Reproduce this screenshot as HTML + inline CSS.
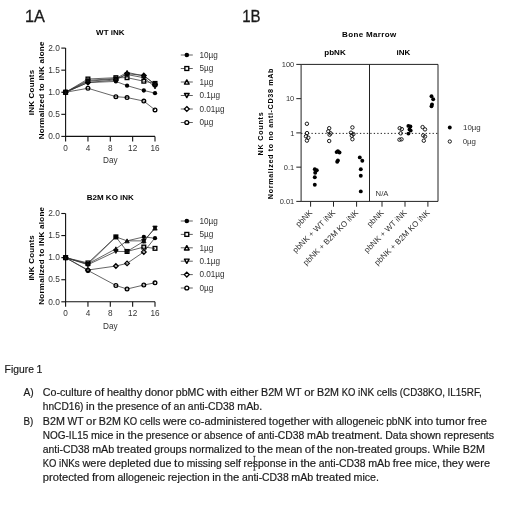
<!DOCTYPE html>
<html><head><meta charset="utf-8"><style>
html,body{margin:0;padding:0;background:#fff;width:520px;height:506px;overflow:hidden}
svg{display:block;font-family:"Liberation Sans", sans-serif;will-change:transform}
</style></head><body>
<svg width="520" height="506" viewBox="0 0 520 506">
<text x="110.3" y="35.00" font-size="8" font-weight="bold" text-anchor="middle">WT iNK</text>
<path d="M65.60 48.10 V136.40 H155.00" fill="none" stroke="#111" stroke-width="1.1"/>
<path d="M61.30 136.40 H65.60" stroke="#111" stroke-width="1.1"/>
<text x="59.80" y="139.15" font-size="8.4" fill="#333" text-anchor="end">0.0</text>
<path d="M61.30 114.33 H65.60" stroke="#111" stroke-width="1.1"/>
<text x="59.80" y="117.08" font-size="8.4" fill="#333" text-anchor="end">0.5</text>
<path d="M61.30 92.25 H65.60" stroke="#111" stroke-width="1.1"/>
<text x="59.80" y="95.00" font-size="8.4" fill="#333" text-anchor="end">1.0</text>
<path d="M61.30 70.17 H65.60" stroke="#111" stroke-width="1.1"/>
<text x="59.80" y="72.92" font-size="8.4" fill="#333" text-anchor="end">1.5</text>
<path d="M61.30 48.10 H65.60" stroke="#111" stroke-width="1.1"/>
<text x="59.80" y="50.85" font-size="8.4" fill="#333" text-anchor="end">2.0</text>
<path d="M65.60 136.40 V141.40" stroke="#111" stroke-width="1.1"/>
<text x="65.60" y="150.90" font-size="8.2" fill="#333" text-anchor="middle">0</text>
<path d="M87.95 136.40 V141.40" stroke="#111" stroke-width="1.1"/>
<text x="87.95" y="150.90" font-size="8.2" fill="#333" text-anchor="middle">4</text>
<path d="M110.30 136.40 V141.40" stroke="#111" stroke-width="1.1"/>
<text x="110.30" y="150.90" font-size="8.2" fill="#333" text-anchor="middle">8</text>
<path d="M132.65 136.40 V141.40" stroke="#111" stroke-width="1.1"/>
<text x="132.65" y="150.90" font-size="8.2" fill="#333" text-anchor="middle">12</text>
<path d="M155.00 136.40 V141.40" stroke="#111" stroke-width="1.1"/>
<text x="155.00" y="150.90" font-size="8.2" fill="#333" text-anchor="middle">16</text>
<text x="110.3" y="163.10" font-size="8.2" fill="#333" text-anchor="middle">Day</text>
<text transform="translate(33.9 92.40) rotate(-90)" font-size="8" font-weight="bold" text-anchor="middle" letter-spacing="0.2">iNK Counts</text>
<text transform="translate(43.8 90.30) rotate(-90)" font-size="8" font-weight="bold" text-anchor="middle" letter-spacing="0.26">Normalized to iNK alone</text>
<polyline points="65.60,92.25 87.95,82.54 115.89,81.43 127.06,85.63 143.82,90.48 155.00,93.13" fill="none" stroke="#333" stroke-width="0.75"/>
<polyline points="65.60,92.25 87.95,79.00 115.89,77.68 127.06,77.68 143.82,81.21 155.00,83.42" fill="none" stroke="#333" stroke-width="0.75"/>
<polyline points="65.60,92.25 87.95,80.33 115.89,78.56 127.06,72.38 143.82,75.91 155.00,84.30" fill="none" stroke="#333" stroke-width="0.75"/>
<polyline points="65.60,92.25 87.95,81.21 115.89,79.00 127.06,74.59 143.82,77.68 155.00,86.95" fill="none" stroke="#333" stroke-width="0.75"/>
<polyline points="65.60,92.25 87.95,82.54 115.89,79.89 127.06,73.71 143.82,75.47 155.00,84.30" fill="none" stroke="#333" stroke-width="0.75"/>
<polyline points="65.60,92.25 87.95,88.28 115.89,96.66 127.06,97.55 143.82,101.08 155.00,109.91" fill="none" stroke="#333" stroke-width="0.75"/>
<circle cx="65.60" cy="92.25" r="1.85" fill="none" stroke="#000" stroke-width="1.35"/>
<circle cx="87.95" cy="88.28" r="1.85" fill="none" stroke="#000" stroke-width="1.35"/>
<circle cx="115.89" cy="96.66" r="1.85" fill="none" stroke="#000" stroke-width="1.35"/>
<circle cx="127.06" cy="97.55" r="1.85" fill="none" stroke="#000" stroke-width="1.35"/>
<circle cx="143.82" cy="101.08" r="1.85" fill="none" stroke="#000" stroke-width="1.35"/>
<circle cx="155.00" cy="109.91" r="1.85" fill="none" stroke="#000" stroke-width="1.35"/>
<path d="M65.60 89.95 L67.90 92.25 L65.60 94.55 L63.30 92.25Z" fill="none" stroke="#000" stroke-width="1.3"/>
<path d="M87.95 80.24 L90.25 82.54 L87.95 84.84 L85.65 82.54Z" fill="none" stroke="#000" stroke-width="1.3"/>
<path d="M115.89 77.59 L118.19 79.89 L115.89 82.19 L113.59 79.89Z" fill="none" stroke="#000" stroke-width="1.3"/>
<path d="M127.06 71.41 L129.36 73.71 L127.06 76.01 L124.76 73.71Z" fill="none" stroke="#000" stroke-width="1.3"/>
<path d="M143.82 73.17 L146.12 75.47 L143.82 77.77 L141.52 75.47Z" fill="none" stroke="#000" stroke-width="1.3"/>
<path d="M155.00 82.00 L157.30 84.30 L155.00 86.60 L152.70 84.30Z" fill="none" stroke="#000" stroke-width="1.3"/>
<rect x="63.75" y="90.40" width="3.70" height="3.70" fill="none" stroke="#000" stroke-width="1.35"/>
<rect x="86.10" y="77.16" width="3.70" height="3.70" fill="none" stroke="#000" stroke-width="1.35"/>
<rect x="114.04" y="75.83" width="3.70" height="3.70" fill="none" stroke="#000" stroke-width="1.35"/>
<rect x="125.21" y="75.83" width="3.70" height="3.70" fill="none" stroke="#000" stroke-width="1.35"/>
<rect x="141.97" y="79.36" width="3.70" height="3.70" fill="none" stroke="#000" stroke-width="1.35"/>
<rect x="153.15" y="81.57" width="3.70" height="3.70" fill="none" stroke="#000" stroke-width="1.35"/>
<circle cx="65.60" cy="92.25" r="2.15" fill="#000"/>
<circle cx="87.95" cy="82.54" r="2.15" fill="#000"/>
<circle cx="115.89" cy="81.43" r="2.15" fill="#000"/>
<circle cx="127.06" cy="85.63" r="2.15" fill="#000"/>
<circle cx="143.82" cy="90.48" r="2.15" fill="#000"/>
<circle cx="155.00" cy="93.13" r="2.15" fill="#000"/>
<path d="M65.60 94.25 L67.80 90.25 L63.40 90.25Z" fill="#111" stroke="#000" stroke-width="0.8" stroke-linejoin="round"/>
<path d="M87.95 83.21 L90.15 79.21 L85.75 79.21Z" fill="#111" stroke="#000" stroke-width="0.8" stroke-linejoin="round"/>
<path d="M115.89 81.00 L118.09 77.00 L113.69 77.00Z" fill="#111" stroke="#000" stroke-width="0.8" stroke-linejoin="round"/>
<path d="M127.06 76.59 L129.26 72.59 L124.86 72.59Z" fill="#111" stroke="#000" stroke-width="0.8" stroke-linejoin="round"/>
<path d="M143.82 79.68 L146.02 75.68 L141.62 75.68Z" fill="#111" stroke="#000" stroke-width="0.8" stroke-linejoin="round"/>
<path d="M155.00 88.95 L157.20 84.95 L152.80 84.95Z" fill="#111" stroke="#000" stroke-width="0.8" stroke-linejoin="round"/>
<path d="M65.60 90.25 L67.80 94.25 L63.40 94.25Z" fill="#111" stroke="#000" stroke-width="0.8" stroke-linejoin="round"/>
<path d="M87.95 78.33 L90.15 82.33 L85.75 82.33Z" fill="#111" stroke="#000" stroke-width="0.8" stroke-linejoin="round"/>
<path d="M115.89 76.56 L118.09 80.56 L113.69 80.56Z" fill="#111" stroke="#000" stroke-width="0.8" stroke-linejoin="round"/>
<path d="M127.06 70.38 L129.26 74.38 L124.86 74.38Z" fill="#111" stroke="#000" stroke-width="0.8" stroke-linejoin="round"/>
<path d="M143.82 73.91 L146.02 77.91 L141.62 77.91Z" fill="#111" stroke="#000" stroke-width="0.8" stroke-linejoin="round"/>
<path d="M155.00 82.30 L157.20 86.30 L152.80 86.30Z" fill="#111" stroke="#000" stroke-width="0.8" stroke-linejoin="round"/>
<path d="M180.8 55.00 H192.8" stroke="#444" stroke-width="0.85"/>
<circle cx="186.80" cy="55.00" r="2.26" fill="#000"/>
<text x="199.4" y="57.70" font-size="8.2" fill="#333">10µg</text>
<path d="M180.8 68.50 H192.8" stroke="#444" stroke-width="0.85"/>
<rect x="184.86" y="66.56" width="3.89" height="3.89" fill="#fff" stroke="#000" stroke-width="1.35"/>
<text x="199.4" y="71.20" font-size="8.2" fill="#333">5µg</text>
<path d="M180.8 82.00 H192.8" stroke="#444" stroke-width="0.85"/>
<path d="M186.80 79.90 L189.11 84.10 L184.49 84.10Z" fill="#fff" stroke="#000" stroke-width="1.45" stroke-linejoin="round"/>
<text x="199.4" y="84.70" font-size="8.2" fill="#333">1µg</text>
<path d="M180.8 95.50 H192.8" stroke="#444" stroke-width="0.85"/>
<path d="M186.80 97.60 L189.11 93.40 L184.49 93.40Z" fill="#fff" stroke="#000" stroke-width="1.45" stroke-linejoin="round"/>
<text x="199.4" y="98.20" font-size="8.2" fill="#333">0.1µg</text>
<path d="M180.8 109.00 H192.8" stroke="#444" stroke-width="0.85"/>
<path d="M186.80 106.58 L189.22 109.00 L186.80 111.42 L184.39 109.00Z" fill="#fff" stroke="#000" stroke-width="1.3"/>
<text x="199.4" y="111.70" font-size="8.2" fill="#333">0.01µg</text>
<path d="M180.8 122.50 H192.8" stroke="#444" stroke-width="0.85"/>
<circle cx="186.80" cy="122.50" r="1.94" fill="#fff" stroke="#000" stroke-width="1.35"/>
<text x="199.4" y="125.20" font-size="8.2" fill="#333">0µg</text>
<text x="110.3" y="200.40" font-size="8" font-weight="bold" text-anchor="middle">B2M KO iNK</text>
<path d="M65.60 213.50 V301.80 H155.00" fill="none" stroke="#111" stroke-width="1.1"/>
<path d="M61.30 301.80 H65.60" stroke="#111" stroke-width="1.1"/>
<text x="59.80" y="304.55" font-size="8.4" fill="#333" text-anchor="end">0.0</text>
<path d="M61.30 279.73 H65.60" stroke="#111" stroke-width="1.1"/>
<text x="59.80" y="282.48" font-size="8.4" fill="#333" text-anchor="end">0.5</text>
<path d="M61.30 257.65 H65.60" stroke="#111" stroke-width="1.1"/>
<text x="59.80" y="260.40" font-size="8.4" fill="#333" text-anchor="end">1.0</text>
<path d="M61.30 235.57 H65.60" stroke="#111" stroke-width="1.1"/>
<text x="59.80" y="238.32" font-size="8.4" fill="#333" text-anchor="end">1.5</text>
<path d="M61.30 213.50 H65.60" stroke="#111" stroke-width="1.1"/>
<text x="59.80" y="216.25" font-size="8.4" fill="#333" text-anchor="end">2.0</text>
<path d="M65.60 301.80 V306.80" stroke="#111" stroke-width="1.1"/>
<text x="65.60" y="316.30" font-size="8.2" fill="#333" text-anchor="middle">0</text>
<path d="M87.95 301.80 V306.80" stroke="#111" stroke-width="1.1"/>
<text x="87.95" y="316.30" font-size="8.2" fill="#333" text-anchor="middle">4</text>
<path d="M110.30 301.80 V306.80" stroke="#111" stroke-width="1.1"/>
<text x="110.30" y="316.30" font-size="8.2" fill="#333" text-anchor="middle">8</text>
<path d="M132.65 301.80 V306.80" stroke="#111" stroke-width="1.1"/>
<text x="132.65" y="316.30" font-size="8.2" fill="#333" text-anchor="middle">12</text>
<path d="M155.00 301.80 V306.80" stroke="#111" stroke-width="1.1"/>
<text x="155.00" y="316.30" font-size="8.2" fill="#333" text-anchor="middle">16</text>
<text x="110.3" y="328.50" font-size="8.2" fill="#333" text-anchor="middle">Day</text>
<text transform="translate(33.9 257.80) rotate(-90)" font-size="8" font-weight="bold" text-anchor="middle" letter-spacing="0.2">iNK Counts</text>
<text transform="translate(43.8 255.70) rotate(-90)" font-size="8" font-weight="bold" text-anchor="middle" letter-spacing="0.26">Normalized to iNK alone</text>
<polyline points="65.60,257.65 87.95,264.27 115.89,236.90 127.06,240.87 143.82,236.90 155.00,238.22" fill="none" stroke="#333" stroke-width="0.75"/>
<polyline points="65.60,257.65 87.95,262.95 115.89,236.90 127.06,251.47 143.82,247.05 155.00,248.38" fill="none" stroke="#333" stroke-width="0.75"/>
<polyline points="65.60,257.65 87.95,263.83 115.89,248.82 127.06,240.87 143.82,240.87 155.00,228.07" fill="none" stroke="#333" stroke-width="0.75"/>
<polyline points="65.60,257.65 87.95,264.71 115.89,251.47 127.06,251.47 143.82,241.31 155.00,228.07" fill="none" stroke="#333" stroke-width="0.75"/>
<polyline points="65.60,257.65 87.95,270.01 115.89,266.04 127.06,263.39 143.82,251.91 155.00,237.78" fill="none" stroke="#333" stroke-width="0.75"/>
<polyline points="65.60,257.65 87.95,270.45 115.89,285.46 127.06,289.00 143.82,285.02 155.00,282.82" fill="none" stroke="#333" stroke-width="0.75"/>
<circle cx="65.60" cy="257.65" r="1.85" fill="none" stroke="#000" stroke-width="1.35"/>
<circle cx="87.95" cy="270.45" r="1.85" fill="none" stroke="#000" stroke-width="1.35"/>
<circle cx="115.89" cy="285.46" r="1.85" fill="none" stroke="#000" stroke-width="1.35"/>
<circle cx="127.06" cy="289.00" r="1.85" fill="none" stroke="#000" stroke-width="1.35"/>
<circle cx="143.82" cy="285.02" r="1.85" fill="none" stroke="#000" stroke-width="1.35"/>
<circle cx="155.00" cy="282.82" r="1.85" fill="none" stroke="#000" stroke-width="1.35"/>
<path d="M65.60 255.35 L67.90 257.65 L65.60 259.95 L63.30 257.65Z" fill="none" stroke="#000" stroke-width="1.3"/>
<path d="M87.95 267.71 L90.25 270.01 L87.95 272.31 L85.65 270.01Z" fill="none" stroke="#000" stroke-width="1.3"/>
<path d="M115.89 263.74 L118.19 266.04 L115.89 268.34 L113.59 266.04Z" fill="none" stroke="#000" stroke-width="1.3"/>
<path d="M127.06 261.09 L129.36 263.39 L127.06 265.69 L124.76 263.39Z" fill="none" stroke="#000" stroke-width="1.3"/>
<path d="M143.82 249.61 L146.12 251.91 L143.82 254.21 L141.52 251.91Z" fill="none" stroke="#000" stroke-width="1.3"/>
<rect x="63.75" y="255.80" width="3.70" height="3.70" fill="none" stroke="#000" stroke-width="1.35"/>
<rect x="86.10" y="261.10" width="3.70" height="3.70" fill="none" stroke="#000" stroke-width="1.35"/>
<rect x="114.04" y="235.05" width="3.70" height="3.70" fill="none" stroke="#000" stroke-width="1.35"/>
<rect x="125.21" y="249.62" width="3.70" height="3.70" fill="none" stroke="#000" stroke-width="1.35"/>
<rect x="141.97" y="245.20" width="3.70" height="3.70" fill="none" stroke="#000" stroke-width="1.35"/>
<rect x="153.15" y="246.53" width="3.70" height="3.70" fill="none" stroke="#000" stroke-width="1.35"/>
<circle cx="65.60" cy="257.65" r="2.15" fill="#000"/>
<circle cx="87.95" cy="264.27" r="2.15" fill="#000"/>
<circle cx="115.89" cy="236.90" r="2.15" fill="#000"/>
<circle cx="143.82" cy="236.90" r="2.15" fill="#000"/>
<circle cx="155.00" cy="238.22" r="2.15" fill="#000"/>
<path d="M65.60 259.65 L67.80 255.65 L63.40 255.65Z" fill="#111" stroke="#000" stroke-width="0.8" stroke-linejoin="round"/>
<path d="M87.95 266.71 L90.15 262.71 L85.75 262.71Z" fill="#111" stroke="#000" stroke-width="0.8" stroke-linejoin="round"/>
<path d="M115.89 253.47 L118.09 249.47 L113.69 249.47Z" fill="#111" stroke="#000" stroke-width="0.8" stroke-linejoin="round"/>
<path d="M127.06 253.47 L129.26 249.47 L124.86 249.47Z" fill="#111" stroke="#000" stroke-width="0.8" stroke-linejoin="round"/>
<path d="M143.82 243.31 L146.02 239.31 L141.62 239.31Z" fill="#111" stroke="#000" stroke-width="0.8" stroke-linejoin="round"/>
<path d="M155.00 230.07 L157.20 226.07 L152.80 226.07Z" fill="#111" stroke="#000" stroke-width="0.8" stroke-linejoin="round"/>
<path d="M65.60 255.65 L67.80 259.65 L63.40 259.65Z" fill="#111" stroke="#000" stroke-width="0.8" stroke-linejoin="round"/>
<path d="M87.95 261.83 L90.15 265.83 L85.75 265.83Z" fill="#111" stroke="#000" stroke-width="0.8" stroke-linejoin="round"/>
<path d="M115.89 246.82 L118.09 250.82 L113.69 250.82Z" fill="#111" stroke="#000" stroke-width="0.8" stroke-linejoin="round"/>
<path d="M127.06 238.87 L129.26 242.87 L124.86 242.87Z" fill="#111" stroke="#000" stroke-width="0.8" stroke-linejoin="round"/>
<path d="M143.82 238.87 L146.02 242.87 L141.62 242.87Z" fill="#111" stroke="#000" stroke-width="0.8" stroke-linejoin="round"/>
<path d="M155.00 226.07 L157.20 230.07 L152.80 230.07Z" fill="#111" stroke="#000" stroke-width="0.8" stroke-linejoin="round"/>
<path d="M180.8 221.00 H192.8" stroke="#444" stroke-width="0.85"/>
<circle cx="186.80" cy="221.00" r="2.26" fill="#000"/>
<text x="199.4" y="223.70" font-size="8.2" fill="#333">10µg</text>
<path d="M180.8 234.40 H192.8" stroke="#444" stroke-width="0.85"/>
<rect x="184.86" y="232.46" width="3.89" height="3.89" fill="#fff" stroke="#000" stroke-width="1.35"/>
<text x="199.4" y="237.10" font-size="8.2" fill="#333">5µg</text>
<path d="M180.8 247.80 H192.8" stroke="#444" stroke-width="0.85"/>
<path d="M186.80 245.70 L189.11 249.90 L184.49 249.90Z" fill="#fff" stroke="#000" stroke-width="1.45" stroke-linejoin="round"/>
<text x="199.4" y="250.50" font-size="8.2" fill="#333">1µg</text>
<path d="M180.8 261.20 H192.8" stroke="#444" stroke-width="0.85"/>
<path d="M186.80 263.30 L189.11 259.10 L184.49 259.10Z" fill="#fff" stroke="#000" stroke-width="1.45" stroke-linejoin="round"/>
<text x="199.4" y="263.90" font-size="8.2" fill="#333">0.1µg</text>
<path d="M180.8 274.60 H192.8" stroke="#444" stroke-width="0.85"/>
<path d="M186.80 272.19 L189.22 274.60 L186.80 277.02 L184.39 274.60Z" fill="#fff" stroke="#000" stroke-width="1.3"/>
<text x="199.4" y="277.30" font-size="8.2" fill="#333">0.01µg</text>
<path d="M180.8 288.00 H192.8" stroke="#444" stroke-width="0.85"/>
<circle cx="186.80" cy="288.00" r="1.94" fill="#fff" stroke="#000" stroke-width="1.35"/>
<text x="199.4" y="290.70" font-size="8.2" fill="#333">0µg</text>
<text x="369.3" y="37.1" font-size="8" font-weight="bold" text-anchor="middle" letter-spacing="0.35">Bone Marrow</text>
<text x="335.0" y="54.9" font-size="8" font-weight="bold" text-anchor="middle">pbNK</text>
<text x="403.3" y="54.9" font-size="8" font-weight="bold" text-anchor="middle">iNK</text>
<path d="M301.1 64.4 H438.0 V201.4 H301.1 Z M369.5 64.4 V201.4" fill="none" stroke="#222" stroke-width="1.0"/>
<path d="M296.30 64.40 H301.1" stroke="#222" stroke-width="1.0"/>
<text x="294.30" y="67.10" font-size="7.5" fill="#333" text-anchor="end">100</text>
<path d="M296.30 98.65 H301.1" stroke="#222" stroke-width="1.0"/>
<text x="294.30" y="101.35" font-size="7.5" fill="#333" text-anchor="end">10</text>
<path d="M296.30 132.90 H301.1" stroke="#222" stroke-width="1.0"/>
<text x="294.30" y="135.60" font-size="7.5" fill="#333" text-anchor="end">1</text>
<path d="M296.30 167.15 H301.1" stroke="#222" stroke-width="1.0"/>
<text x="294.30" y="169.85" font-size="7.5" fill="#333" text-anchor="end">0.1</text>
<path d="M296.30 201.40 H301.1" stroke="#222" stroke-width="1.0"/>
<text x="294.30" y="204.10" font-size="7.5" fill="#333" text-anchor="end">0.01</text>
<path d="M301.1 133.40 H438.0" stroke="#222" stroke-width="1.0" stroke-dasharray="1.3 2.16"/>
<path d="M310.6 201.4 V206.70000000000002" stroke="#222" stroke-width="1.0"/>
<text transform="translate(312.90 213.20) rotate(-45)" font-size="8" fill="#333" text-anchor="end">pbNK</text>
<path d="M333.5 201.4 V206.70000000000002" stroke="#222" stroke-width="1.0"/>
<text transform="translate(335.80 213.20) rotate(-45)" font-size="8" fill="#333" text-anchor="end">pbNK + WT iNK</text>
<path d="M356.6 201.4 V206.70000000000002" stroke="#222" stroke-width="1.0"/>
<text transform="translate(358.90 213.20) rotate(-45)" font-size="8" fill="#333" text-anchor="end">pbNK + B2M KO iNK</text>
<path d="M382.0 201.4 V206.70000000000002" stroke="#222" stroke-width="1.0"/>
<text transform="translate(384.30 213.20) rotate(-45)" font-size="8" fill="#333" text-anchor="end">pbNK</text>
<path d="M405.0 201.4 V206.70000000000002" stroke="#222" stroke-width="1.0"/>
<text transform="translate(407.30 213.20) rotate(-45)" font-size="8" fill="#333" text-anchor="end">pbNK + WT iNK</text>
<path d="M427.9 201.4 V206.70000000000002" stroke="#222" stroke-width="1.0"/>
<text transform="translate(430.20 213.20) rotate(-45)" font-size="8" fill="#333" text-anchor="end">pbNK + B2M KO iNK</text>
<text transform="translate(262.6 133.5) rotate(-90)" font-size="7.2" font-weight="bold" text-anchor="middle" letter-spacing="0.75">NK Counts</text>
<text transform="translate(272.6 133.5) rotate(-90)" font-size="7.2" text-anchor="middle" letter-spacing="0.65" font-weight="bold">Normalized to no anti-CD38 mAb</text>
<text x="375.6" y="196.3" font-size="7.7" fill="#333">N/A</text>
<circle cx="306.9" cy="123.8" r="1.72" fill="none" stroke="#111" stroke-width="0.95"/>
<circle cx="307.0" cy="133.1" r="1.72" fill="none" stroke="#111" stroke-width="0.95"/>
<circle cx="306.0" cy="136.3" r="1.72" fill="none" stroke="#111" stroke-width="0.95"/>
<circle cx="308.3" cy="137.7" r="1.72" fill="none" stroke="#111" stroke-width="0.95"/>
<circle cx="306.9" cy="140.6" r="1.72" fill="none" stroke="#111" stroke-width="0.95"/>
<circle cx="329.2" cy="128.2" r="1.72" fill="none" stroke="#111" stroke-width="0.95"/>
<circle cx="328.3" cy="131.3" r="1.72" fill="none" stroke="#111" stroke-width="0.95"/>
<circle cx="330.6" cy="133.3" r="1.72" fill="none" stroke="#111" stroke-width="0.95"/>
<circle cx="329.6" cy="134.7" r="1.72" fill="none" stroke="#111" stroke-width="0.95"/>
<circle cx="329.2" cy="141.0" r="1.72" fill="none" stroke="#111" stroke-width="0.95"/>
<circle cx="352.4" cy="127.4" r="1.72" fill="none" stroke="#111" stroke-width="0.95"/>
<circle cx="351.0" cy="132.7" r="1.72" fill="none" stroke="#111" stroke-width="0.95"/>
<circle cx="353.4" cy="134.1" r="1.72" fill="none" stroke="#111" stroke-width="0.95"/>
<circle cx="351.8" cy="135.7" r="1.72" fill="none" stroke="#111" stroke-width="0.95"/>
<circle cx="352.4" cy="139.2" r="1.72" fill="none" stroke="#111" stroke-width="0.95"/>
<circle cx="399.7" cy="128.2" r="1.72" fill="none" stroke="#111" stroke-width="0.95"/>
<circle cx="401.8" cy="129.1" r="1.72" fill="none" stroke="#111" stroke-width="0.95"/>
<circle cx="400.7" cy="133.3" r="1.72" fill="none" stroke="#111" stroke-width="0.95"/>
<circle cx="399.5" cy="139.7" r="1.72" fill="none" stroke="#111" stroke-width="0.95"/>
<circle cx="401.5" cy="139.3" r="1.72" fill="none" stroke="#111" stroke-width="0.95"/>
<circle cx="422.6" cy="127.1" r="1.72" fill="none" stroke="#111" stroke-width="0.95"/>
<circle cx="425.0" cy="129.4" r="1.72" fill="none" stroke="#111" stroke-width="0.95"/>
<circle cx="423.2" cy="135.4" r="1.72" fill="none" stroke="#111" stroke-width="0.95"/>
<circle cx="425.0" cy="136.5" r="1.72" fill="none" stroke="#111" stroke-width="0.95"/>
<circle cx="423.8" cy="140.7" r="1.72" fill="none" stroke="#111" stroke-width="0.95"/>
<circle cx="314.8" cy="169.3" r="1.95" fill="#000"/>
<circle cx="316.8" cy="170.3" r="1.95" fill="#000"/>
<circle cx="315.2" cy="172.8" r="1.95" fill="#000"/>
<circle cx="314.8" cy="177.2" r="1.95" fill="#000"/>
<circle cx="314.8" cy="184.7" r="1.95" fill="#000"/>
<circle cx="337.9" cy="151.1" r="1.95" fill="#000"/>
<circle cx="336.6" cy="152.1" r="1.95" fill="#000"/>
<circle cx="339.5" cy="152.5" r="1.95" fill="#000"/>
<circle cx="337.9" cy="160.4" r="1.95" fill="#000"/>
<circle cx="337.2" cy="161.8" r="1.95" fill="#000"/>
<circle cx="359.8" cy="157.4" r="1.95" fill="#000"/>
<circle cx="362.3" cy="160.8" r="1.95" fill="#000"/>
<circle cx="360.8" cy="169.3" r="1.95" fill="#000"/>
<circle cx="360.8" cy="175.8" r="1.95" fill="#000"/>
<circle cx="360.8" cy="191.4" r="1.95" fill="#000"/>
<circle cx="408.4" cy="125.9" r="1.95" fill="#000"/>
<circle cx="410.4" cy="126.5" r="1.95" fill="#000"/>
<circle cx="409.5" cy="129.4" r="1.95" fill="#000"/>
<circle cx="410.7" cy="130.6" r="1.95" fill="#000"/>
<circle cx="408.4" cy="133.6" r="1.95" fill="#000"/>
<circle cx="431.5" cy="96.3" r="1.95" fill="#000"/>
<circle cx="433.2" cy="99.2" r="1.95" fill="#000"/>
<circle cx="432.0" cy="104.5" r="1.95" fill="#000"/>
<circle cx="431.5" cy="106.3" r="1.95" fill="#000"/>
<circle cx="449.8" cy="127.5" r="1.95" fill="#000"/>
<circle cx="449.8" cy="141.5" r="1.65" fill="#fff" stroke="#111" stroke-width="0.95"/>
<text x="463.0" y="130.2" font-size="7.9" fill="#333">10µg</text>
<text x="462.7" y="144.2" font-size="7.9" fill="#333">0µg</text>
<text x="25.0" y="21.7" font-size="16.3" fill="#1a1a1a" stroke="#1a1a1a" stroke-width="0.3">1A</text>
<text x="242.2" y="21.7" font-size="16.3" fill="#1a1a1a" stroke="#1a1a1a" stroke-width="0.3" textLength="18.4" lengthAdjust="spacingAndGlyphs">1B</text>
<g font-size="10.2" fill="#1a1a1a" stroke="#1a1a1a" stroke-width="0.18">
<text x="4.60" y="373.0" textLength="29.31" lengthAdjust="spacingAndGlyphs">Figure</text>
<text x="36.53" y="373.0" textLength="5.87" lengthAdjust="spacingAndGlyphs">1</text>
<text x="23.40" y="396.3" textLength="10.21" lengthAdjust="spacingAndGlyphs">A)</text>
<text x="42.80" y="396.3" textLength="49.23" lengthAdjust="spacingAndGlyphs">Co-culture</text>
<text x="94.64" y="396.3" textLength="9.64" lengthAdjust="spacingAndGlyphs">of</text>
<text x="106.90" y="396.3" textLength="35.25" lengthAdjust="spacingAndGlyphs">healthy</text>
<text x="144.78" y="396.3" textLength="28.42" lengthAdjust="spacingAndGlyphs">donor</text>
<text x="175.81" y="396.3" textLength="28.24" lengthAdjust="spacingAndGlyphs">pbMC</text>
<text x="206.67" y="396.3" textLength="20.90" lengthAdjust="spacingAndGlyphs">with</text>
<text x="230.19" y="396.3" textLength="28.18" lengthAdjust="spacingAndGlyphs">either</text>
<text x="260.99" y="396.3" textLength="22.07" lengthAdjust="spacingAndGlyphs">B2M</text>
<text x="285.67" y="396.3" textLength="15.95" lengthAdjust="spacingAndGlyphs">WT</text>
<text x="304.24" y="396.3" textLength="10.14" lengthAdjust="spacingAndGlyphs">or</text>
<text x="317.00" y="396.3" textLength="22.07" lengthAdjust="spacingAndGlyphs">B2M</text>
<text x="341.69" y="396.3" textLength="13.68" lengthAdjust="spacingAndGlyphs">KO</text>
<text x="357.99" y="396.3" textLength="16.15" lengthAdjust="spacingAndGlyphs">iNK</text>
<text x="376.75" y="396.3" textLength="20.50" lengthAdjust="spacingAndGlyphs">cells</text>
<text x="399.87" y="396.3" textLength="45.12" lengthAdjust="spacingAndGlyphs">(CD38KO,</text>
<text x="447.61" y="396.3" textLength="34.02" lengthAdjust="spacingAndGlyphs">IL15RF,</text>
<text x="42.80" y="410.4" textLength="40.72" lengthAdjust="spacingAndGlyphs">hnCD16)</text>
<text x="86.13" y="410.4" textLength="8.74" lengthAdjust="spacingAndGlyphs">in</text>
<text x="97.49" y="410.4" textLength="15.72" lengthAdjust="spacingAndGlyphs">the</text>
<text x="115.84" y="410.4" textLength="42.92" lengthAdjust="spacingAndGlyphs">presence</text>
<text x="161.37" y="410.4" textLength="9.64" lengthAdjust="spacingAndGlyphs">of</text>
<text x="173.63" y="410.4" textLength="11.63" lengthAdjust="spacingAndGlyphs">an</text>
<text x="187.88" y="410.4" textLength="46.75" lengthAdjust="spacingAndGlyphs">anti-CD38</text>
<text x="237.25" y="410.4" textLength="24.96" lengthAdjust="spacingAndGlyphs">mAb.</text>
<text x="23.40" y="424.5" textLength="9.81" lengthAdjust="spacingAndGlyphs">B)</text>
<text x="42.80" y="424.5" textLength="22.07" lengthAdjust="spacingAndGlyphs">B2M</text>
<text x="67.49" y="424.5" textLength="15.95" lengthAdjust="spacingAndGlyphs">WT</text>
<text x="86.05" y="424.5" textLength="10.14" lengthAdjust="spacingAndGlyphs">or</text>
<text x="98.81" y="424.5" textLength="22.07" lengthAdjust="spacingAndGlyphs">B2M</text>
<text x="123.50" y="424.5" textLength="13.68" lengthAdjust="spacingAndGlyphs">KO</text>
<text x="139.80" y="424.5" textLength="20.50" lengthAdjust="spacingAndGlyphs">cells</text>
<text x="162.92" y="424.5" textLength="23.84" lengthAdjust="spacingAndGlyphs">were</text>
<text x="189.38" y="424.5" textLength="76.88" lengthAdjust="spacingAndGlyphs">co-administered</text>
<text x="268.88" y="424.5" textLength="40.96" lengthAdjust="spacingAndGlyphs">together</text>
<text x="312.45" y="424.5" textLength="20.90" lengthAdjust="spacingAndGlyphs">with</text>
<text x="335.97" y="424.5" textLength="47.58" lengthAdjust="spacingAndGlyphs">allogeneic</text>
<text x="386.17" y="424.5" textLength="25.66" lengthAdjust="spacingAndGlyphs">pbNK</text>
<text x="414.45" y="424.5" textLength="18.73" lengthAdjust="spacingAndGlyphs">into</text>
<text x="435.79" y="424.5" textLength="29.36" lengthAdjust="spacingAndGlyphs">tumor</text>
<text x="467.77" y="424.5" textLength="19.09" lengthAdjust="spacingAndGlyphs">free</text>
<text x="42.80" y="438.7" textLength="45.52" lengthAdjust="spacingAndGlyphs">NOG-IL15</text>
<text x="90.94" y="438.7" textLength="22.57" lengthAdjust="spacingAndGlyphs">mice</text>
<text x="116.12" y="438.7" textLength="8.74" lengthAdjust="spacingAndGlyphs">in</text>
<text x="127.48" y="438.7" textLength="15.72" lengthAdjust="spacingAndGlyphs">the</text>
<text x="145.82" y="438.7" textLength="42.92" lengthAdjust="spacingAndGlyphs">presence</text>
<text x="191.36" y="438.7" textLength="10.14" lengthAdjust="spacingAndGlyphs">or</text>
<text x="204.12" y="438.7" textLength="38.66" lengthAdjust="spacingAndGlyphs">absence</text>
<text x="245.40" y="438.7" textLength="9.64" lengthAdjust="spacingAndGlyphs">of</text>
<text x="257.66" y="438.7" textLength="46.75" lengthAdjust="spacingAndGlyphs">anti-CD38</text>
<text x="307.03" y="438.7" textLength="22.03" lengthAdjust="spacingAndGlyphs">mAb</text>
<text x="331.68" y="438.7" textLength="51.00" lengthAdjust="spacingAndGlyphs">treatment.</text>
<text x="385.30" y="438.7" textLength="22.10" lengthAdjust="spacingAndGlyphs">Data</text>
<text x="410.01" y="438.7" textLength="31.08" lengthAdjust="spacingAndGlyphs">shown</text>
<text x="443.71" y="438.7" textLength="50.46" lengthAdjust="spacingAndGlyphs">represents</text>
<text x="42.80" y="452.8" textLength="46.75" lengthAdjust="spacingAndGlyphs">anti-CD38</text>
<text x="92.17" y="452.8" textLength="22.03" lengthAdjust="spacingAndGlyphs">mAb</text>
<text x="116.82" y="452.8" textLength="34.95" lengthAdjust="spacingAndGlyphs">treated</text>
<text x="154.39" y="452.8" textLength="32.29" lengthAdjust="spacingAndGlyphs">groups</text>
<text x="189.30" y="452.8" textLength="52.76" lengthAdjust="spacingAndGlyphs">normalized</text>
<text x="244.68" y="452.8" textLength="9.99" lengthAdjust="spacingAndGlyphs">to</text>
<text x="257.28" y="452.8" textLength="15.72" lengthAdjust="spacingAndGlyphs">the</text>
<text x="275.62" y="452.8" textLength="26.64" lengthAdjust="spacingAndGlyphs">mean</text>
<text x="304.88" y="452.8" textLength="9.64" lengthAdjust="spacingAndGlyphs">of</text>
<text x="317.14" y="452.8" textLength="15.72" lengthAdjust="spacingAndGlyphs">the</text>
<text x="335.48" y="452.8" textLength="56.77" lengthAdjust="spacingAndGlyphs">non-treated</text>
<text x="394.87" y="452.8" textLength="35.21" lengthAdjust="spacingAndGlyphs">groups.</text>
<text x="432.70" y="452.8" textLength="27.46" lengthAdjust="spacingAndGlyphs">While</text>
<text x="462.78" y="452.8" textLength="22.07" lengthAdjust="spacingAndGlyphs">B2M</text>
<text x="42.80" y="467.0" textLength="13.68" lengthAdjust="spacingAndGlyphs">KO</text>
<text x="59.10" y="467.0" textLength="20.68" lengthAdjust="spacingAndGlyphs">iNKs</text>
<text x="82.40" y="467.0" textLength="23.84" lengthAdjust="spacingAndGlyphs">were</text>
<text x="108.85" y="467.0" textLength="42.07" lengthAdjust="spacingAndGlyphs">depleted</text>
<text x="153.55" y="467.0" textLength="17.93" lengthAdjust="spacingAndGlyphs">due</text>
<text x="174.09" y="467.0" textLength="9.99" lengthAdjust="spacingAndGlyphs">to</text>
<text x="186.70" y="467.0" textLength="35.16" lengthAdjust="spacingAndGlyphs">missing</text>
<text x="224.47" y="467.0" textLength="16.48" lengthAdjust="spacingAndGlyphs">self</text>
<text x="243.57" y="467.0" textLength="42.89" lengthAdjust="spacingAndGlyphs">response</text>
<text x="289.08" y="467.0" textLength="8.74" lengthAdjust="spacingAndGlyphs">in</text>
<text x="300.44" y="467.0" textLength="15.72" lengthAdjust="spacingAndGlyphs">the</text>
<text x="318.79" y="467.0" textLength="46.75" lengthAdjust="spacingAndGlyphs">anti-CD38</text>
<text x="368.15" y="467.0" textLength="22.03" lengthAdjust="spacingAndGlyphs">mAb</text>
<text x="392.81" y="467.0" textLength="19.09" lengthAdjust="spacingAndGlyphs">free</text>
<text x="414.52" y="467.0" textLength="25.46" lengthAdjust="spacingAndGlyphs">mice,</text>
<text x="442.59" y="467.0" textLength="20.97" lengthAdjust="spacingAndGlyphs">they</text>
<text x="466.18" y="467.0" textLength="23.84" lengthAdjust="spacingAndGlyphs">were</text>
<text x="42.80" y="481.1" textLength="46.49" lengthAdjust="spacingAndGlyphs">protected</text>
<text x="91.91" y="481.1" textLength="22.93" lengthAdjust="spacingAndGlyphs">from</text>
<text x="117.45" y="481.1" textLength="47.58" lengthAdjust="spacingAndGlyphs">allogeneic</text>
<text x="167.65" y="481.1" textLength="41.95" lengthAdjust="spacingAndGlyphs">rejection</text>
<text x="212.23" y="481.1" textLength="8.74" lengthAdjust="spacingAndGlyphs">in</text>
<text x="223.58" y="481.1" textLength="15.72" lengthAdjust="spacingAndGlyphs">the</text>
<text x="241.93" y="481.1" textLength="46.75" lengthAdjust="spacingAndGlyphs">anti-CD38</text>
<text x="291.30" y="481.1" textLength="22.03" lengthAdjust="spacingAndGlyphs">mAb</text>
<text x="315.95" y="481.1" textLength="34.95" lengthAdjust="spacingAndGlyphs">treated</text>
<text x="353.51" y="481.1" textLength="25.49" lengthAdjust="spacingAndGlyphs">mice.</text>
</g>
<path d="M254.4 456.3 V470.2 M253.3 456.3 H255.5 M253.3 470.2 H255.5" stroke="#222" stroke-width="0.8" fill="none"/>
</svg>
</body></html>
